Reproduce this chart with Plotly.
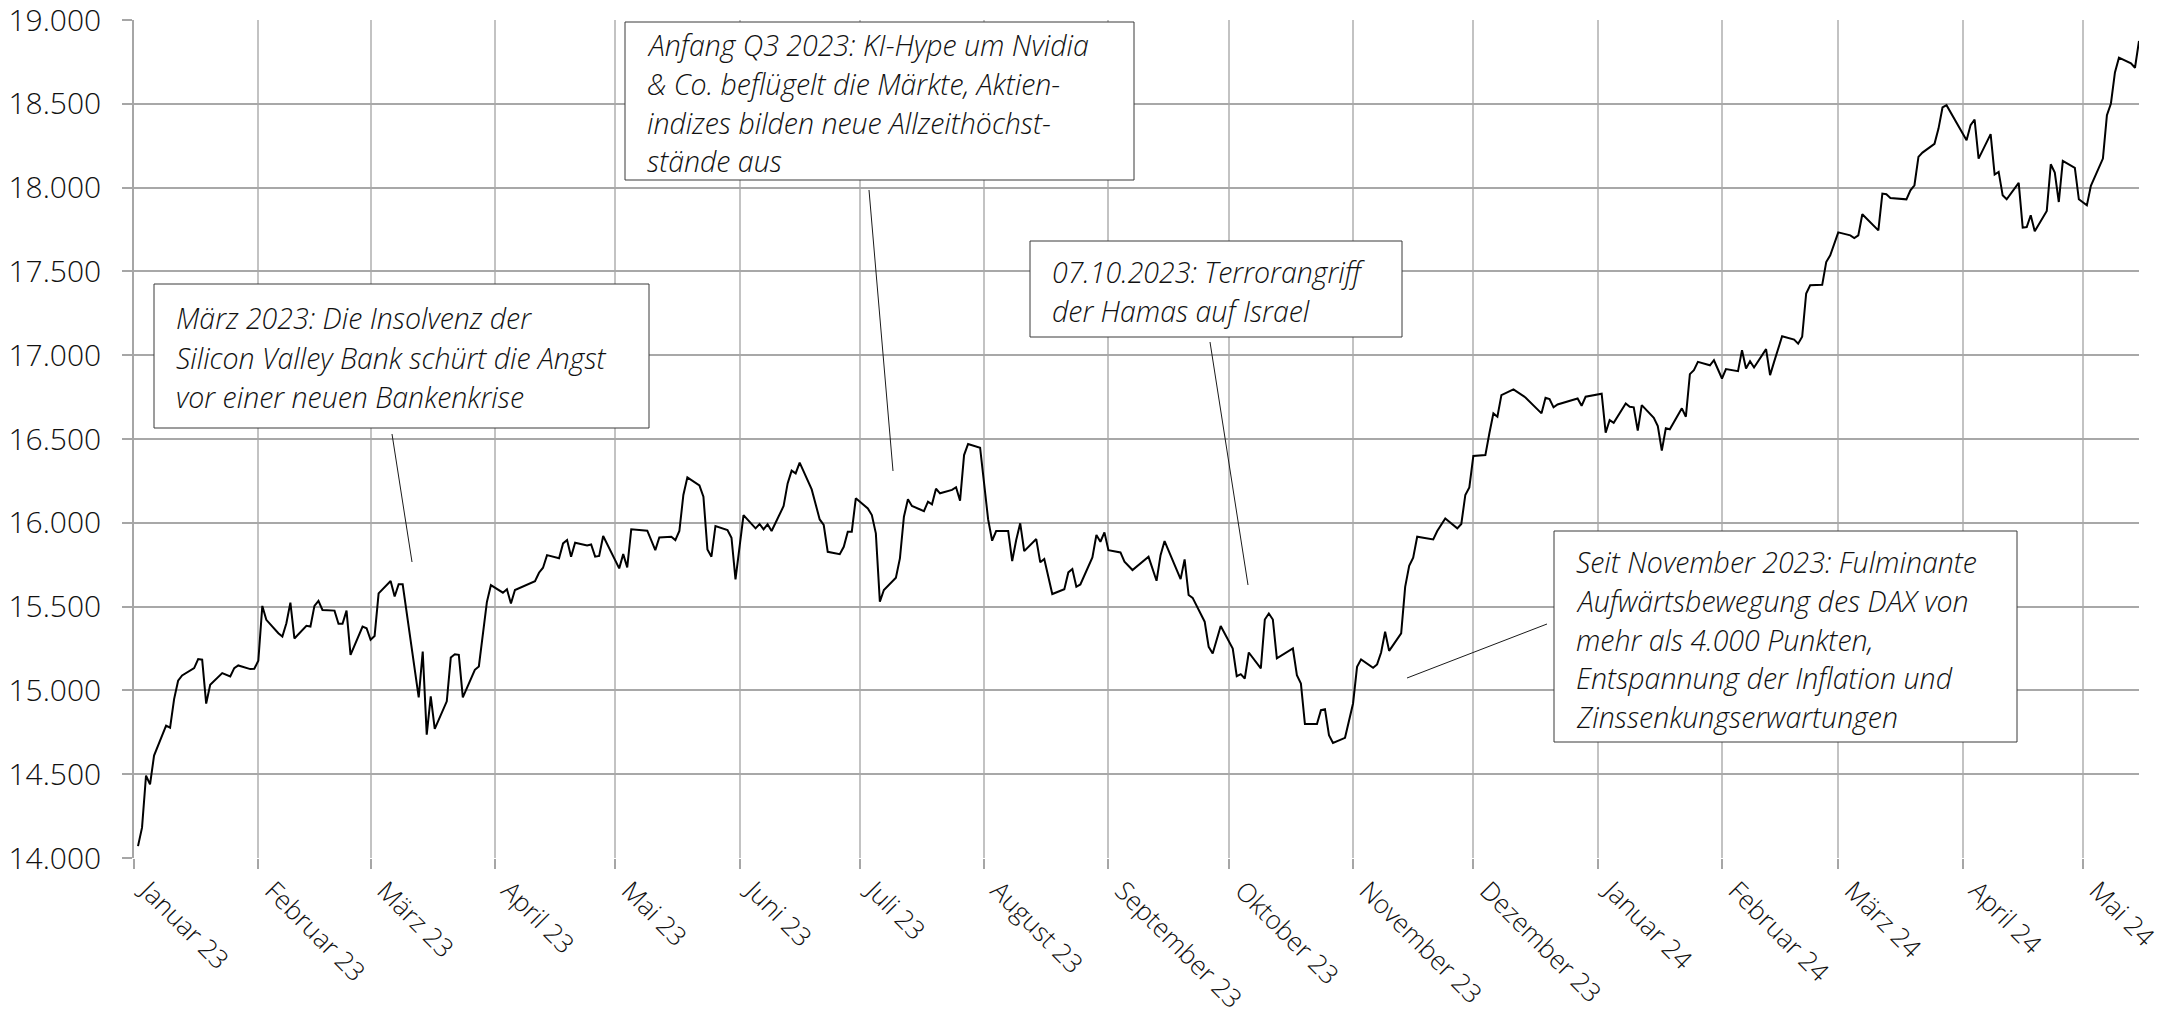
import plotly.graph_objects as go

# ---------------- data ----------------
dates_2023 = [
    "2023-01-02", "2023-01-03", "2023-01-04", "2023-01-05", "2023-01-06", "2023-01-09", "2023-01-10",
    "2023-01-11", "2023-01-12", "2023-01-13", "2023-01-16", "2023-01-17", "2023-01-18", "2023-01-19",
    "2023-01-20", "2023-01-23", "2023-01-25", "2023-01-26", "2023-01-27", "2023-01-30", "2023-01-31",
    "2023-02-01", "2023-02-02", "2023-02-03", "2023-02-06", "2023-02-07", "2023-02-08", "2023-02-09",
    "2023-02-10", "2023-02-13", "2023-02-14", "2023-02-15", "2023-02-16", "2023-02-17", "2023-02-20",
    "2023-02-21", "2023-02-22", "2023-02-23", "2023-02-24", "2023-02-27", "2023-02-28", "2023-03-01",
    "2023-03-02", "2023-03-03", "2023-03-06", "2023-03-07", "2023-03-08", "2023-03-09", "2023-03-13",
    "2023-03-14", "2023-03-15", "2023-03-16", "2023-03-17", "2023-03-20", "2023-03-21", "2023-03-22",
    "2023-03-23", "2023-03-24", "2023-03-27", "2023-03-28", "2023-03-30", "2023-03-31", "2023-04-03",
    "2023-04-04", "2023-04-05", "2023-04-06", "2023-04-11", "2023-04-12", "2023-04-13", "2023-04-14",
    "2023-04-17", "2023-04-18", "2023-04-19", "2023-04-20", "2023-04-21", "2023-04-24", "2023-04-25",
    "2023-04-26", "2023-04-27", "2023-04-28", "2023-05-02", "2023-05-03", "2023-05-04", "2023-05-05",
    "2023-05-09", "2023-05-11", "2023-05-12", "2023-05-15", "2023-05-16", "2023-05-17", "2023-05-18",
    "2023-05-19", "2023-05-22", "2023-05-23", "2023-05-24", "2023-05-25", "2023-05-26", "2023-05-29",
    "2023-05-30", "2023-05-31", "2023-06-02", "2023-06-05", "2023-06-06", "2023-06-07", "2023-06-08",
    "2023-06-09", "2023-06-12", "2023-06-13", "2023-06-14", "2023-06-15", "2023-06-16", "2023-06-19",
    "2023-06-21", "2023-06-22", "2023-06-23", "2023-06-26", "2023-06-27", "2023-06-28", "2023-06-29",
    "2023-06-30", "2023-07-03", "2023-07-04", "2023-07-05", "2023-07-06", "2023-07-07", "2023-07-10",
    "2023-07-11", "2023-07-12", "2023-07-13", "2023-07-14", "2023-07-17", "2023-07-18", "2023-07-19",
    "2023-07-20", "2023-07-21", "2023-07-24", "2023-07-25", "2023-07-26", "2023-07-27", "2023-07-28",
    "2023-07-31", "2023-08-01", "2023-08-02", "2023-08-03", "2023-08-04", "2023-08-07", "2023-08-08",
    "2023-08-09", "2023-08-10", "2023-08-11", "2023-08-14", "2023-08-15", "2023-08-16", "2023-08-18",
    "2023-08-21", "2023-08-22", "2023-08-23", "2023-08-24", "2023-08-25", "2023-08-28", "2023-08-29",
    "2023-08-30", "2023-08-31", "2023-09-01", "2023-09-04", "2023-09-05", "2023-09-07", "2023-09-11",
    "2023-09-13", "2023-09-14", "2023-09-15", "2023-09-19", "2023-09-20", "2023-09-21", "2023-09-22",
    "2023-09-25", "2023-09-26", "2023-09-27", "2023-09-29", "2023-10-02", "2023-10-03", "2023-10-04",
    "2023-10-05", "2023-10-06", "2023-10-09", "2023-10-10", "2023-10-11", "2023-10-12", "2023-10-13",
    "2023-10-17", "2023-10-18", "2023-10-19", "2023-10-20", "2023-10-23", "2023-10-24", "2023-10-25",
    "2023-10-26", "2023-10-27", "2023-10-30", "2023-11-01", "2023-11-02", "2023-11-03", "2023-11-06",
    "2023-11-07", "2023-11-08", "2023-11-09", "2023-11-10", "2023-11-13", "2023-11-14", "2023-11-15",
    "2023-11-16", "2023-11-17", "2023-11-21", "2023-11-22", "2023-11-24", "2023-11-27", "2023-11-28",
    "2023-11-29", "2023-11-30", "2023-12-01", "2023-12-04", "2023-12-05", "2023-12-06", "2023-12-07",
    "2023-12-08", "2023-12-11", "2023-12-13", "2023-12-14", "2023-12-18", "2023-12-19", "2023-12-20",
    "2023-12-21", "2023-12-22", "2023-12-27", "2023-12-28", "2023-12-29",
]
values_2023 = [
    14071, 14181, 14492, 14439, 14611, 14790, 14778,
    14948, 15058, 15089, 15133, 15187, 15183, 14921,
    15034, 15103, 15083, 15133, 15149, 15127, 15129,
    15177, 15504, 15421, 15341, 15321, 15401, 15524,
    15310, 15385, 15381, 15504, 15534, 15480, 15476,
    15397, 15397, 15476, 15212, 15381, 15371, 15302,
    15325, 15579, 15653, 15560, 15633, 15633, 14958,
    15232, 14736, 14964, 14770, 14935, 15196, 15216,
    15212, 14958, 15123, 15143, 15527, 15628, 15583,
    15603, 15519, 15599, 15652, 15702, 15732, 15807,
    15788, 15877, 15897, 15798, 15881, 15865, 15871,
    15798, 15802, 15921, 15728, 15813, 15734, 15961,
    15953, 15837, 15913, 15917, 15897, 15951, 16166,
    16271, 16223, 16156, 15841, 15798, 15981, 15957,
    15911, 15662, 16046, 15967, 15993, 15961, 15991,
    15951, 16100, 16235, 16311, 16295, 16359, 16199,
    16020, 15987, 15827, 15813, 15857, 15947, 15947,
    16146, 16086, 16046, 15937, 15529, 15599, 15672,
    15788, 16036, 16140, 16100, 16070, 16126, 16110,
    16203, 16176, 16196, 16212, 16132, 16404, 16470,
    16448, 16235, 16020, 15893, 15951, 15951, 15772,
    15897, 15997, 15831, 15903, 15764, 15784, 15575,
    15604, 15704, 15724, 15618, 15632, 15794, 15927,
    15887, 15943, 15837, 15823, 15768, 15718, 15797,
    15654, 15807, 15891, 15664, 15782, 15569, 15552,
    15410, 15260, 15220, 15384, 15250, 15085, 15097,
    15071, 15226, 15131, 15423, 15459, 15423, 15191,
    15250, 15091, 15041, 14799, 14799, 14882, 14888,
    14733, 14687, 14717, 14922, 15141, 15185, 15135,
    15155, 15226, 15350, 15236, 15340, 15618, 15744,
    15792, 15917, 15901, 15951, 16026, 15967, 15993,
    16166, 16211, 16399, 16404, 16534, 16653, 16633,
    16762, 16796, 16762, 16748, 16653, 16746, 16738,
    16689, 16706, 16742, 16698, 16752,
]
dates_2024 = [
    "2024-01-02", "2024-01-03", "2024-01-04", "2024-01-05", "2024-01-08", "2024-01-09", "2024-01-10",
    "2024-01-11", "2024-01-12", "2024-01-15", "2024-01-16", "2024-01-17", "2024-01-18", "2024-01-19",
    "2024-01-22", "2024-01-23", "2024-01-24", "2024-01-25", "2024-01-26", "2024-01-29", "2024-01-30",
    "2024-02-01", "2024-02-02", "2024-02-05", "2024-02-06", "2024-02-07", "2024-02-08", "2024-02-09",
    "2024-02-12", "2024-02-13", "2024-02-14", "2024-02-16", "2024-02-19", "2024-02-20", "2024-02-21",
    "2024-02-22", "2024-02-23", "2024-02-26", "2024-02-27", "2024-02-28", "2024-03-01", "2024-03-04",
    "2024-03-05", "2024-03-06", "2024-03-07", "2024-03-11", "2024-03-12", "2024-03-13", "2024-03-14",
    "2024-03-18", "2024-03-19", "2024-03-20", "2024-03-21", "2024-03-22", "2024-03-25", "2024-03-26",
    "2024-03-27", "2024-03-28", "2024-04-02", "2024-04-03", "2024-04-04", "2024-04-05", "2024-04-08",
    "2024-04-09", "2024-04-10", "2024-04-11", "2024-04-12", "2024-04-15", "2024-04-16", "2024-04-17",
    "2024-04-18", "2024-04-19", "2024-04-22", "2024-04-23", "2024-04-24", "2024-04-25", "2024-04-26",
    "2024-04-29", "2024-04-30", "2024-05-02", "2024-05-03", "2024-05-06", "2024-05-07", "2024-05-08",
    "2024-05-09", "2024-05-10", "2024-05-13", "2024-05-14", "2024-05-15",
]
values_2024 = [
    16770, 16538, 16613, 16597, 16712, 16692, 16689,
    16550, 16702, 16627, 16577, 16431, 16564, 16558,
    16683, 16633, 16887, 16911, 16960, 16940, 16970,
    16861, 16917, 16905, 17030, 16921, 16964, 16927,
    17036, 16881, 16960, 17113, 17093, 17069, 17110,
    17368, 17417, 17420, 17556, 17596, 17733, 17715,
    17699, 17715, 17841, 17745, 17964, 17960, 17938,
    17930, 17984, 18014, 18183, 18209, 18261, 18352,
    18478, 18492, 18283, 18373, 18406, 18173, 18319,
    18078, 18094, 17954, 17930, 18028, 17761, 17765,
    17835, 17739, 17861, 18139, 18090, 17914, 18159,
    18118, 17930, 17894, 18010, 18173, 18432, 18502,
    18687, 18775, 18741, 18715, 18875,
]

month_ticks = [
    "2023-01-01", "2023-02-01", "2023-03-01", "2023-04-01", "2023-05-01", "2023-06-01",
    "2023-07-01", "2023-08-01", "2023-09-01", "2023-10-01", "2023-11-01", "2023-12-01",
    "2024-01-01", "2024-02-01", "2024-03-01", "2024-04-01", "2024-05-01",
]
month_labels = [
    "Januar 23", "Februar 23", "März 23", "April 23", "Mai 23", "Juni 23",
    "Juli 23", "August 23", "September 23", "Oktober 23", "November 23", "Dezember 23",
    "Januar 24", "Februar 24", "März 24", "April 24", "Mai 24",
]
y_ticks = [14000, 14500, 15000, 15500, 16000, 16500, 17000, 17500, 18000, 18500, 19000]

notes = [
    ["März 2023: Die Insolvenz der",
     "Silicon Valley Bank schürt die Angst",
     "vor einer neuen Bankenkrise"],
    ["Anfang Q3 2023: KI-Hype um Nvidia",
     "& Co. beflügelt die Märkte, Aktien-",
     "indizes bilden neue Allzeithöchst-",
     "stände aus"],
    ["07.10.2023: Terrorangriff",
     "der Hamas auf Israel"],
    ["Seit November 2023: Fulminante",
     "Aufwärtsbewegung des DAX von",
     "mehr als 4.000 Punkten,",
     "Entspannung der Inflation und",
     "Zinssenkungserwartungen"],
]

# ---------------- layout geometry (pixels) ----------------
W, H = 2174, 1017
ML, MR, MT, MB = 134, 35, 20, 159
PW, PH = W - ML - MR, H - MT - MB

def px(x):
    return (x - ML) / PW

def py(y):
    return 1 - (y - MT) / PH

# box: left, top, right, bottom, text-left, first line centre, line step
boxes = [
    (154, 284, 649, 428, 174, 318, 39.5),
    (625, 22, 1134, 180, 645, 45, 38.8),
    (1030, 241, 1402, 337, 1050, 272, 38.8),
    (1554, 531, 2017, 742, 1574, 562, 38.8),
]
leaders = [
    ((392, 434), (412, 562)),
    ((869, 190), (893, 471)),
    ((1210, 342), (1248, 585)),
    ((1547, 624), (1407, 678)),
]

FONT = "Open Sans"
TXT = "#111111"
fig = go.Figure()
fig.add_trace(go.Scatter(
    x=dates_2023 + dates_2024, y=values_2023 + values_2024,
    mode="lines", line=dict(color="#000000", width=2), hoverinfo="skip",
))

shapes = []
annotations = []
for (l, t, r, b, tl, ty, step), lines in zip(boxes, notes):
    shapes.append(dict(type="rect", xref="paper", yref="paper",
                       x0=px(l), x1=px(r), y0=py(b), y1=py(t),
                       line=dict(color="#3a3a3a", width=1), fillcolor="white", layer="above"))
    for i, txt in enumerate(lines):
        annotations.append(dict(xref="paper", yref="paper", x=px(tl), y=py(ty + i * step),
                                xanchor="left", yanchor="middle", showarrow=False, text=txt,
                                font=dict(family=FONT, size=28.5, color=TXT,
                                          style="italic", weight=300)))
for (x0, y0), (x1, y1) in leaders:
    shapes.append(dict(type="line", xref="paper", yref="paper",
                       x0=px(x0), y0=py(y0), x1=px(x1), y1=py(y1),
                       line=dict(color="#1a1a1a", width=1)))

fig.update_layout(
    width=W, height=H,
    margin=dict(l=ML, r=MR, t=MT, b=MB, pad=0, autoexpand=False),
    paper_bgcolor="white", plot_bgcolor="white",
    showlegend=False,
    separators=",.",
    shapes=shapes, annotations=annotations,
    font=dict(family=FONT, color=TXT, weight=300),
)
fig.update_xaxes(
    type="date", range=["2023-01-01", "2024-05-15"], automargin=False,
    tickmode="array", tickvals=month_ticks, ticktext=month_labels,
    tickangle=45, tickfont=dict(family=FONT, size=26, color=TXT, weight=300),
    ticklabelshift=14, ticklabelstandoff=-4, ticklabeloverflow="allow",
    showgrid=True, gridcolor="#C3C3C3", gridwidth=1.5,
    ticks="outside", ticklen=10, tickcolor="#A6A6A6", tickwidth=1.5,
    showline=False, zeroline=False,
)
fig.update_yaxes(
    range=[14000, 19000], automargin=False,
    tickmode="array", tickvals=y_ticks, tickformat=",.0f",
    tickfont=dict(family=FONT, size=30, color=TXT, weight=300),
    ticklabelstandoff=15, ticklabeloverflow="allow",
    showgrid=True, gridcolor="#A8A8A8", gridwidth=1.5,
    ticks="outside", ticklen=10, tickcolor="#A6A6A6", tickwidth=1.5,
    showline=True, linecolor="#A6A6A6", linewidth=1.5,
    zeroline=False,
)

fig.write_html("out.html")
